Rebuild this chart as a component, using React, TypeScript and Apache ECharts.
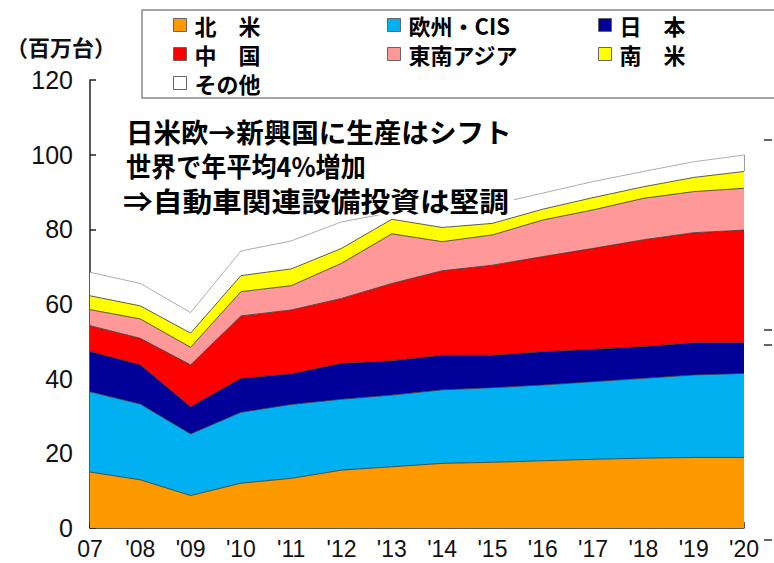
import React, { useEffect, useRef } from "react";
import * as echarts from "echarts";

const years = ["07", "'08", "'09", "'10", "'11", "'12", "'13", "'14", "'15", "'16", "'17", "'18", "'19", "'20"];

const northAmerica = [15.0, 12.9, 8.7, 12.0, 13.3, 15.5, 16.4, 17.3, 17.6, 18.0, 18.4, 18.7, 18.9, 18.9];
const europeCIS = [21.5, 20.3, 16.5, 19.0, 19.8, 19.0, 19.2, 19.7, 20.0, 20.3, 20.8, 21.4, 22.1, 22.5];
const japan = [10.8, 10.5, 7.3, 9.1, 8.2, 9.6, 9.2, 9.3, 8.7, 8.9, 8.7, 8.5, 8.6, 8.2];
const china = [6.9, 7.1, 11.2, 16.7, 17.1, 17.4, 20.7, 22.6, 24.1, 25.5, 27.0, 28.6, 29.5, 30.2];
const seAsia = [4.3, 5.2, 4.7, 6.5, 6.5, 9.4, 13.3, 7.8, 8.1, 9.8, 10.3, 11.1, 11.0, 11.2];
const southAmerica = [3.7, 3.5, 3.8, 4.3, 4.5, 4.0, 3.9, 3.8, 3.1, 2.9, 3.3, 3.1, 3.8, 4.5];
const others = [6.3, 6.0, 5.5, 6.6, 7.5, 7.1, 1.8, 4.7, 5.0, 4.3, 4.3, 4.1, 4.2, 4.4];

const seriesNames = ["北　米", "欧州・CIS", "日　本", "中　国", "東南アジア", "南　米", "その他"];
const seriesData = [northAmerica, europeCIS, japan, china, seAsia, southAmerica, others];
const seriesColors = ["#FF9900", "#00B0F0", "#000099", "#FF0000", "#FF9999", "#FFFF00", "#FFFFFF"];

const legendCols = [
  ["北　米", "中　国", "その他"],
  ["欧州・CIS", "東南アジア"],
  ["日　本", "南　米"],
];
const legendLefts = [173, 387, 598];

const noteLines = ["日米欧→新興国に生産はシフト", "世界で年平均4%増加", "⇒自動車関連設備投資は堅調"];
const unitLabel = "（百万台）";

const JP = "'Noto Sans CJK JP', 'Noto Sans', sans-serif";
const LAT = "'Liberation Sans', Arial, sans-serif";

export default function App() {
  const ref = useRef<HTMLDivElement>(null);

  useEffect(() => {
    document.body.style.margin = "0";
    const chart = echarts.init(ref.current!, null, { renderer: "svg" });

    const colorOf = (n: string) => seriesColors[seriesNames.indexOf(n)];
    const last = years.length - 1;
    const totalBelowOthers = seriesData.slice(0, 6).reduce((s, arr) => s + arr[last], 0);
    const totalAll = totalBelowOthers + others[last];

    const option: any = {
      animation: false,
      backgroundColor: "#fff",
      grid: { left: 90, right: 30, top: 80, bottom: 35 },
      legend: legendCols.map((col, i) => ({
        left: legendLefts[i],
        top: 14,
        orient: "vertical",
        padding: 0,
        itemGap: 7,
        itemWidth: 13,
        itemHeight: 13,
        selectedMode: false,
        textStyle: {
          fontSize: 22,
          fontWeight: "bold",
          fontFamily: JP,
          color: "#000",
          lineHeight: 22,
          padding: [0, 0, 0, 3],
        },
        data: col.map((n) => ({
          name: n,
          icon: "rect",
          itemStyle: { color: colorOf(n), borderColor: "#666", borderWidth: 1 },
        })),
      })),
      xAxis: {
        type: "category",
        data: years,
        boundaryGap: false,
        axisLine: { lineStyle: { color: "#222", width: 1.5 } },
        axisTick: { inside: true, length: 6, lineStyle: { color: "#222", width: 1.5 } },
        axisLabel: { fontSize: 23, color: "#111", fontFamily: LAT, margin: 9 },
        splitLine: { show: false },
      },
      yAxis: {
        type: "value",
        min: 0,
        max: 120,
        interval: 20,
        axisLine: { show: true, lineStyle: { color: "#222", width: 1.5 } },
        axisTick: { show: true, inside: true, length: 6, lineStyle: { color: "#222", width: 1.5 } },
        axisLabel: { fontSize: 25, color: "#111", fontFamily: LAT, margin: 17, padding: [6, 0, 0, 0] },
        splitLine: { show: false },
      },
      series: seriesNames.map((n, i) => ({
        name: n,
        type: "line",
        stack: "total",
        data: seriesData[i],
        symbol: "none",
        itemStyle: { color: seriesColors[i] },
        lineStyle: { width: 1, color: i === 6 ? "#999" : "#333", opacity: 0.8 },
        areaStyle: { color: seriesColors[i], opacity: 1 },
        emphasis: { disabled: true },
        markLine:
          i === 6
            ? {
                silent: true,
                symbol: "none",
                label: { show: false },
                lineStyle: { color: "#999", width: 1, type: "solid" },
                data: [[{ coord: [years[last], totalBelowOthers] }, { coord: [years[last], totalAll] }]],
              }
            : undefined,
      })),
      graphic: [
        {
          type: "rect",
          z: 1,
          shape: { x: 142, y: 10, width: 640, height: 88 },
          style: { fill: "none", stroke: "#888", lineWidth: 1.5 },
        },
        {
          type: "text",
          z: 10,
          x: 6,
          y: 46,
          style: {
            text: unitLabel,
            fontSize: 22,
            fontWeight: "bold",
            fontFamily: JP,
            fill: "#111",
            verticalAlign: "middle",
          },
        },
        {
          type: "rect",
          z: 100,
          shape: { x: 118, y: 114, width: 396, height: 101 },
          style: { fill: "#fff" },
        },
        ...noteLines.map((t, i) => ({
          type: "text",
          z: 101,
          x: [126, 126, 123][i],
          y: [131, 166, 200][i],
          scaleX: [1.02, 0.93, 1.1][i],
          style: {
            text: t,
            fontSize: 27,
            fontWeight: "bold",
            fontFamily: JP,
            fill: "#000",
            verticalAlign: "middle",
          },
        })),
        ...[140, 330, 345, 540].map((y) => ({
          type: "line",
          z: 10,
          shape: { x1: 764, y1: y, x2: 772, y2: y },
          style: { stroke: "#333", lineWidth: 1.5 },
        })),
      ],
    };

    chart.setOption(option);
    return () => chart.dispose();
  }, []);

  return <div ref={ref} style={{ width: 774, height: 563 }} />;
}
